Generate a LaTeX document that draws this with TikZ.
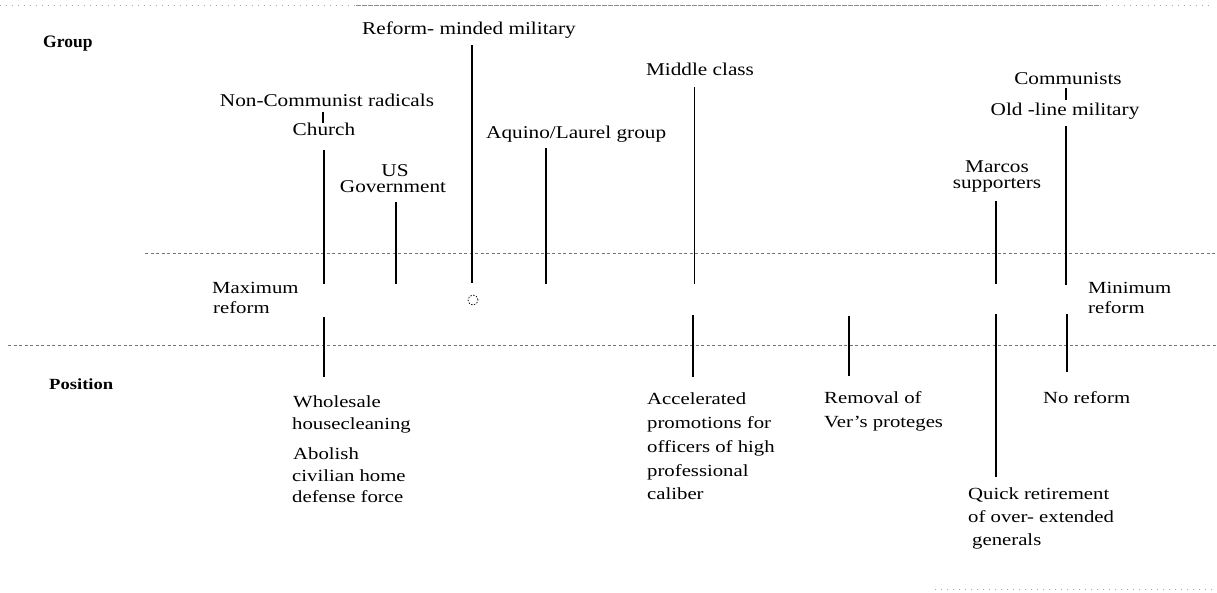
\documentclass[tikz,border=0pt]{standalone}
\usepackage{fontspec}
\setmainfont{Liberation Serif}[FakeStretch=1.2]
\newfontfamily\upfont{Liberation Serif}[FakeStretch=1.18]
\newfontfamily\lowfont{Liberation Serif}[FakeStretch=1.22]
\newfontfamily\plainserif{Liberation Serif}
\begin{document}
\begin{tikzpicture}[x=1pt,y=-1pt,
  lab/.style={inner sep=0pt, font=\upfont\fontsize{18}{20}\selectfont, anchor=base},
  labw/.style={inner sep=0pt, font=\upfont\fontsize{18}{20}\selectfont, anchor=base west},
  midlab/.style={inner sep=0pt, font=\lowfont\fontsize{17}{20}\selectfont, anchor=base west},
  lowlab/.style={inner sep=0pt, font=\lowfont\fontsize{17}{20}\selectfont, anchor=base west},
  headlab/.style={inner sep=0pt, anchor=base west},
  bar/.style={line width=1.3pt, black},
  guide/.style={black!55, line width=0.6pt, dash pattern=on 3pt off 2.5pt},
  faint/.style={black!35, line width=0.5pt, dash pattern=on 1pt off 5pt},
]
\fill[white] (0,0) rectangle (1217,592);
\useasboundingbox (0,0) rectangle (1217,592);

% guide lines
\coordinate (t0) at (0,5); \coordinate (t1) at (356,5); \coordinate (t2) at (1100,5); \coordinate (t3) at (1210,5);
\draw[faint] (t0) -- (t1);
\draw[guide, black!45, dash pattern=on 5pt off 1pt] (t1) -- (t2);
\draw[faint] (t2) -- (t3);
\coordinate (u0) at (145,253); \coordinate (u1) at (1217,253);
\draw[guide] (u0) -- (u1);
\coordinate (l0) at (8,345); \coordinate (l1) at (1217,345);
\draw[guide] (l0) -- (l1);
\coordinate (b0) at (935,589); \coordinate (b1) at (1217,589);
\draw[faint] (b0) -- (b1);

% row headings
\node[headlab, font=\plainserif\bfseries\fontsize{17.5}{20}\selectfont] (grp) at (43,47) {Group};
\node[headlab, font=\bfseries\fontsize{15.5}{20}\selectfont] (pos) at (49,389) {Position};

% group labels
\node[lab] (rmm) at (469,34) {Reform- minded military};
\node[lab] (ncr) at (327,106) {Non-Communist radicals};
\node[lab] (chu) at (324,135) {Church};
\node[lab] (us) at (395,176) {US};
\node[lab] (gov) at (393,192) {Government};
\node[labw] (aq) at (486,138) {Aquino/Laurel group};
\node[lab] (mc) at (700,75) {Middle class};
\node[lab] (com) at (1068,84) {Communists};
\node[lab] (olm) at (1065,115) {Old -line military};
\node[lab] (mar) at (997,172) {Marcos};
\node[lab] (sup) at (997,188) {supporters};

% ticks between stacked labels
\coordinate (nt1) at (323,112); \coordinate (nt2) at (323,123);
\draw[bar] (nt1) -- (nt2);
\coordinate (ct1) at (1066,88); \coordinate (ct2) at (1066,100);
\draw[bar] (ct1) -- (ct2);

% upper bars
\coordinate (chT) at (324,150); \coordinate (chB) at (324,284);
\coordinate (usT) at (396,202); \coordinate (usB) at (396,284);
\coordinate (rmT) at (472,45);  \coordinate (rmB) at (472,283);
\coordinate (aqT) at (546,148); \coordinate (aqB) at (546,284);
\coordinate (mcT) at (694.5,87); \coordinate (mcB) at (694.5,284);
\coordinate (maT) at (996,201); \coordinate (maB) at (996,284);
\coordinate (coT) at (1066,126); \coordinate (coB) at (1066,285);
\draw[bar] (chT) -- (chB);
\draw[bar] (usT) -- (usB);
\draw[bar] (rmT) -- (rmB);
\draw[bar] (aqT) -- (aqB);
\draw[bar] (mcT) -- (mcB);
\draw[bar] (maT) -- (maB);
\draw[bar] (coT) -- (coB);

% small circle under reform-minded military
\node[circle, draw, dash pattern=on 1.5pt off 1.5pt, line width=0.7pt, minimum size=10pt, inner sep=0pt] (circ) at (473,300) {};

% scale ends
\node[midlab] (max1) at (212,293) {Maximum};
\node[midlab] (max2) at (213,313) {reform};
\node[midlab] (min1) at (1088,293) {Minimum};
\node[midlab] (min2) at (1088,313) {reform};

% lower bars
\coordinate (wcT) at (324,317); \coordinate (wcB) at (324,377);
\coordinate (acT) at (693,315); \coordinate (acB) at (693,377);
\coordinate (rvT) at (849,316); \coordinate (rvB) at (849,376);
\coordinate (qrT) at (996,314); \coordinate (qrB) at (996,477);
\coordinate (nrT) at (1067,314); \coordinate (nrB) at (1067,372);
\draw[bar] (wcT) -- (wcB);
\draw[bar] (acT) -- (acB);
\draw[bar] (rvT) -- (rvB);
\draw[bar] (qrT) -- (qrB);
\draw[bar] (nrT) -- (nrB);

% position labels
\node[lowlab] (w1) at (293,407) {Wholesale};
\node[lowlab] (w2) at (292,429) {housecleaning};
\node[lowlab] (w3) at (293,459) {Abolish};
\node[lowlab] (w4) at (292,481) {civilian home};
\node[lowlab] (w5) at (292,502) {defense force};

\node[lowlab] (a1) at (647,404) {Accelerated};
\node[lowlab] (a2) at (647,428) {promotions for};
\node[lowlab] (a3) at (647,452) {officers of high};
\node[lowlab] (a4) at (647,476) {professional};
\node[lowlab] (a5) at (647,499) {caliber};

\node[lowlab] (r1) at (824,403) {Removal of};
\node[lowlab] (r2) at (824,427) {Ver’s proteges};

\node[lowlab] (nr) at (1043,403) {No reform};

\node[lowlab] (q1) at (968,499) {Quick retirement};
\node[lowlab] (q2) at (968,522) {of over- extended};
\node[lowlab] (q3) at (972,545) {generals};
\end{tikzpicture}
\end{document}
